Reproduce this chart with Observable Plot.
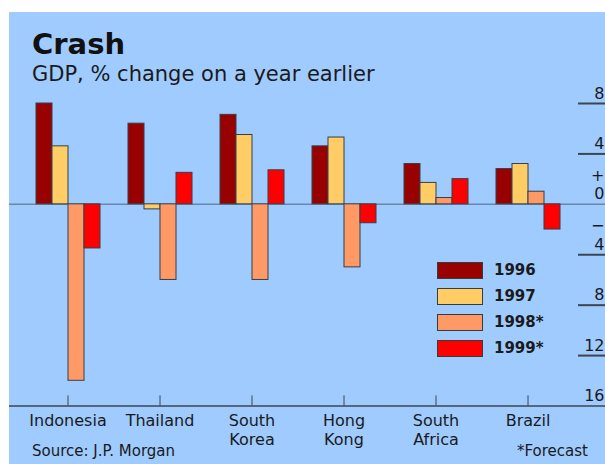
<!DOCTYPE html>
<html>
<head>
<meta charset="utf-8">
<script src="https://cdn.jsdelivr.net/npm/d3@7"></script>
<script src="https://cdn.jsdelivr.net/npm/@observablehq/plot@0.6"></script>
<style>
  html, body { margin: 0; padding: 0; background: #ffffff; }
  #wrap { position: relative; width: 605px; height: 464px; overflow: hidden;
          font-family: "DejaVu Sans", sans-serif; color: #1a1a1a; }
  #panel { position: absolute; left: 9px; top: 12px; width: 596px; height: 452px; background: #9fcbff; }
  #wrap svg { position: absolute; left: 0; top: 0; }
  .title { position: absolute; left: 32px; top: 30px; font-size: 29px; line-height: 29px; font-weight: bold; color: #111; }
  .subtitle { position: absolute; left: 32px; top: 64px; font-size: 21px; line-height: 21px; color: #1a1a1a; }
  .source { position: absolute; left: 32px; top: 444px; font-size: 15px; line-height: 15px; }
  .note { position: absolute; right: 17px; top: 444px; font-size: 15px; line-height: 15px; }
  #legend { position: absolute; left: 437px; top: 257px; }
  .row { display: flex; align-items: center; height: 26px; }
  .sw { width: 44px; height: 15px; border: 1px solid #3a3a3a; margin-right: 11px; }
  .lab { font-size: 15px; font-weight: bold; color: #1a1a1a; }
</style>
</head>
<body>
<div id="wrap">
  <div id="panel"></div>
  <div class="title">Crash</div>
  <div class="subtitle">GDP, % change on a year earlier</div>
  <div class="source">Source: J.P. Morgan</div>
  <div class="note">*Forecast</div>
  <div id="legend"></div>
</div>
<script>
// ---- data ----
const countries = ["Indonesia", "Thailand", "South Korea", "Hong Kong", "South Africa", "Brazil"];
const countryLabels = ["Indonesia", "Thailand", "South\nKorea", "Hong\nKong", "South\nAfrica", "Brazil"];
const years = ["1996", "1997", "1998*", "1999*"];
const v1996 = [8.0, 6.4, 7.1, 4.6, 3.2, 2.8];
const v1997 = [4.6, -0.4, 5.5, 5.3, 1.7, 3.2];
const v1998 = [-14.0, -6.0, -6.0, -5.0, 0.5, 1.0];
const v1999 = [-3.5, 2.5, 2.7, -1.5, 2.0, -2.0];
const yearColors = ["#990000", "#ffcc66", "#ff9966", "#ff0000"];
const tickValues = [8, 4, 0, -4, -8, -12, -16];
const tickLabels = ["8", "4", "+\n0", "\u2212\n4", "8", "12", "16"];

// ---- table ----
const series = [v1996, v1997, v1998, v1999];
const rows = [];
countries.forEach((c, i) => years.forEach((y, j) => rows.push({country: c, year: y, value: series[j][i]})));

const W = 605, H = 464, MT = 103, MB = 58.5;
const font = "DejaVu Sans";

// ---- overlay: axes, zero line, labels ----
const axes = Plot.plot({
  width: W, height: H,
  marginLeft: 9, marginRight: 0, marginTop: MT, marginBottom: MB,
  style: {background: "transparent", fontFamily: font, color: "#1a1a1a"},
  x: {type: "band", domain: countries, range: [32, 563], paddingInner: 0.29, paddingOuter: 0, axis: null},
  y: {domain: [-16, 8], axis: null},
  marks: [
    Plot.ruleY([0], {stroke: "#6a88a6", strokeWidth: 1.5}),
    Plot.ruleY(tickValues.filter(v => v !== 0 && v !== -16), {insetLeft: 569, stroke: "#3d4650", strokeWidth: 2}),
    Plot.ruleY([-16], {stroke: "#3d4650", strokeWidth: 1.5}),
    Plot.ruleX(countries, {x: d => d, y1: -16, y2: -15.2, stroke: "#3d4650", strokeWidth: 1}),
    Plot.text(countries, {x: d => d, y: () => -16, text: (d, i) => countryLabels[i],
      lineAnchor: "top", dy: 7, fontSize: 16, lineHeight: 1.17, fill: "#1a1a1a"}),
    Plot.text(tickValues, {y: d => d, text: (d, i) => tickLabels[i], frameAnchor: "right",
      textAnchor: "end", lineAnchor: "bottom", dx: -1, dy: -5, fontSize: 16, lineHeight: 1.15, fill: "#1a1a1a"})
  ]
});

// ---- bars ----
const bars = Plot.plot({
  width: W, height: H,
  marginLeft: 32, marginRight: 42, marginTop: MT, marginBottom: MB,
  style: {background: "transparent", fontFamily: font},
  fx: {domain: countries, paddingInner: 0.29, paddingOuter: 0, axis: null, label: null},
  x: {domain: years, padding: 0, axis: null},
  y: {domain: [-16, 8], axis: null},
  color: {domain: years, range: yearColors},
  marks: [
    Plot.barY(rows, {fx: "country", x: "year", y: "value", fill: "year", stroke: "#34404c", strokeWidth: 1})
  ]
});

const wrap = document.getElementById("wrap");
wrap.insertBefore(axes, document.querySelector(".title"));
wrap.insertBefore(bars, document.querySelector(".title"));

// ---- legend ----
const legend = document.getElementById("legend");
years.forEach((y, j) => {
  const r = document.createElement("div");
  r.className = "row";
  const s = document.createElement("div");
  s.className = "sw";
  s.style.background = yearColors[j];
  const t = document.createElement("span");
  t.className = "lab";
  t.textContent = y;
  r.appendChild(s); r.appendChild(t);
  legend.appendChild(r);
});
</script>
</body>
</html>
